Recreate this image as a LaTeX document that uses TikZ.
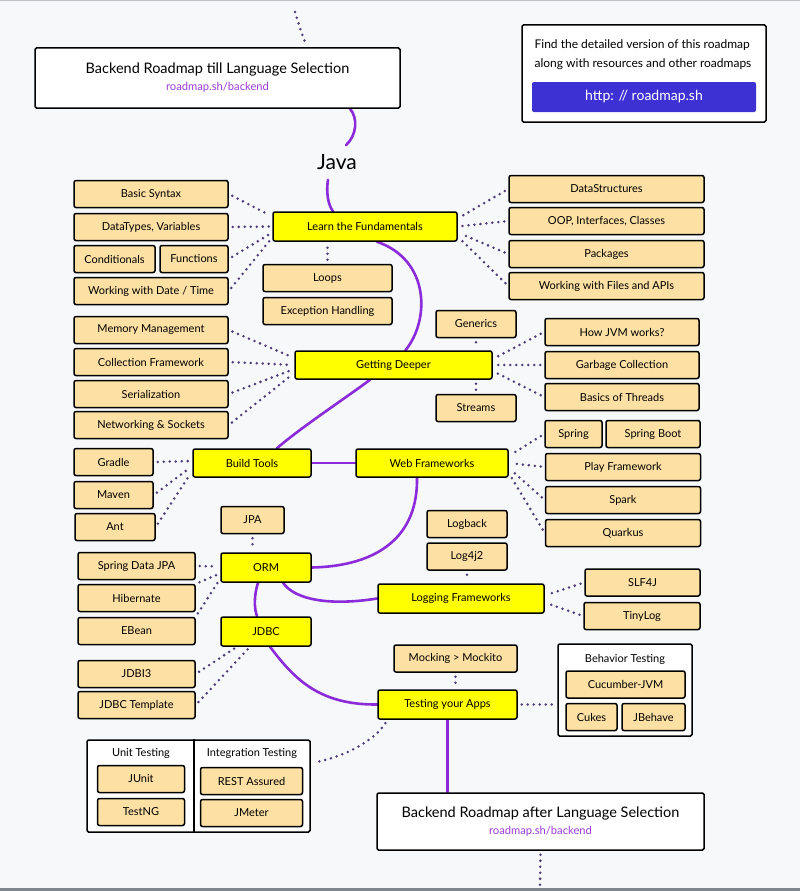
\documentclass[tikz,border=0pt]{standalone}
\usepackage{fontspec}
\setmainfont{Lato}
\usepackage{tikz}
\usetikzlibrary{positioning,calc,backgrounds}
\definecolor{rmbg}{HTML}{F6F8FA}
\definecolor{rmpeach}{HTML}{FDE0A3}
\definecolor{rmyellow}{HTML}{FFFF00}
\definecolor{rmpurple}{HTML}{8B2BD9}
\definecolor{rmdot}{HTML}{4F3B78}
\definecolor{rmblue}{HTML}{3E31D3}
\definecolor{rmlink}{HTML}{9D3BD8}
\definecolor{rmgray}{HTML}{7E868E}
\newcommand{\ttl}{\fontsize{14.5}{17}\selectfont}
\newcommand{\lnk}{\fontsize{11.2}{13}\selectfont\color{rmlink}}

\begin{document}
\begin{tikzpicture}[x=1pt,y=-1pt,font=\fontsize{11}{13}\selectfont,
  leaf/.style={rectangle,rounded corners=2pt,draw=black,line width=1.5pt,fill=rmpeach,align=center,inner sep=0pt,minimum height=27pt},
  topic/.style={leaf,fill=rmyellow,minimum height=28pt},
  hdr/.style={rectangle,rounded corners=1.5pt,draw=black,line width=1.5pt,fill=white,align=center,inner sep=0pt},
  grp/.style={rectangle,rounded corners=1.5pt,draw=black,line width=1.5pt,fill=white,inner sep=0pt},
  ln/.style={rmpurple,line width=2.6pt,line cap=round},
  dl/.style={rmdot,line width=2.8pt,line cap=round,dash pattern=on 0pt off 6pt,shorten <=4pt,shorten >=3pt}]
% ---- headers ----
\node[hdr,minimum width=365pt,minimum height=60pt] (top) at (217.5,78) {{\ttl Backend Roadmap till Language Selection}\\[4pt]{\lnk roadmap.sh/backend}};
\node[hdr,minimum width=244pt,minimum height=97pt] (info) at (644,73.5) {};
\node[align=left,font=\fontsize{12}{19}\selectfont] (infotxt) at (643,54.5) {Find the detailed version of this roadmap\\along with resources and other roadmaps};
\node[rectangle,rounded corners=2pt,fill=rmblue,text=white,font=\fontsize{14}{16}\selectfont,minimum width=224pt,minimum height=30pt] (url) at (644,97) {http: // roadmap.sh};
\node[font=\fontsize{21}{24}\selectfont,inner sep=5pt] (java) at (337,162) {Java};
\coordinate (topend) at (295,12);
% ---- main topics ----
\node[topic,minimum width=184pt,minimum height=29pt] (fund) at (365,226.5) {Learn the Fundamentals};
\node[topic,minimum width=197pt] (deep) at (393.5,365) {Getting Deeper};
\node[topic,minimum width=118pt] (build) at (252,463) {Build Tools};
\node[topic,minimum width=152pt] (web) at (432,463) {Web Frameworks};
\node[topic,minimum width=90pt,minimum height=29pt] (orm) at (266,567.5) {ORM};
\node[topic,minimum width=90pt,minimum height=29pt] (jdbc) at (266,631.5) {JDBC};
\node[topic,minimum width=166pt,minimum height=29pt] (logf) at (461,598.5) {Logging Frameworks};
\node[topic,minimum width=139pt,minimum height=29pt] (test) at (447.5,704.5) {Testing your Apps};
% ---- left column ----
\foreach \n/\y/\lab in {bs/194/{Basic Syntax},dt/227/{DataTypes, Variables},dtm/291/{Working with Date / Time},mem/330/{Memory Management},col/362/{Collection Framework},ser/394/{Serialization},net/425/{Networking \& Sockets}}{
  \node[leaf,minimum width=154pt] (\n) at (151,\y) {\lab};}
\node[leaf,minimum width=81pt] (cond) at (114.5,259) {Conditionals};
\node[leaf,minimum width=68pt] (fun) at (194,259) {Functions};
\node[leaf,minimum width=129pt] (loops) at (327.5,278) {Loops};
\node[leaf,minimum width=129pt] (exc) at (327.5,311) {Exception Handling};
% ---- right column ----
\foreach \n/\y/\lab in {ds/189/{DataStructures},oop/221/{OOP, Interfaces, Classes},pkg/254/{Packages},fil/286/{Working with Files and APIs}}{
  \node[leaf,minimum width=195pt] (\n) at (606.5,\y) {\lab};}
\node[leaf,minimum width=80pt] (gen) at (476,324) {Generics};
\node[leaf,minimum width=80pt] (str) at (476,408) {Streams};
\foreach \n/\y/\lab in {jvm/332/{How JVM works?},gc/365/{Garbage Collection},thr/397/{Basics of Threads}}{
  \node[leaf,minimum width=154pt] (\n) at (622,\y) {\lab};}
\node[leaf,minimum width=57pt] (spr) at (573.5,434) {Spring};
\node[leaf,minimum width=94pt] (sboot) at (653,434) {Spring Boot};
\foreach \n/\y/\lab in {play/467/{Play Framework},spark/500/{Spark},quark/533/{Quarkus}}{
  \node[leaf,minimum width=155pt] (\n) at (623,\y) {\lab};}
% ---- build tools, orm, jdbc ----
\node[leaf,minimum width=79pt] (gradle) at (113.5,462) {Gradle};
\node[leaf,minimum width=79pt] (maven) at (113.5,495) {Maven};
\node[leaf,minimum width=80pt] (ant) at (115,527) {Ant};
\node[leaf,minimum width=63pt] (jpa) at (252.5,520) {JPA};
\foreach \n/\y/\lab in {sdj/566/{Spring Data JPA},hib/598/{Hibernate},ebean/631/{EBean},jdbi/674/{JDBI3},jtpl/705/{JDBC Template}}{
  \node[leaf,minimum width=117pt] (\n) at (136.5,\y) {\lab};}
% ---- logging ----
\node[leaf,minimum width=80pt] (logb) at (467,524) {Logback};
\node[leaf,minimum width=80pt] (log4) at (467,556.5) {Log4j2};
\node[leaf,minimum width=115pt] (slf) at (642.5,582.5) {SLF4J};
\node[leaf,minimum width=116pt] (tiny) at (642,616) {TinyLog};
% ---- testing ----
\node[leaf,minimum width=123pt] (mock) at (455.5,658.5) {Mocking > Mockito};
\node[grp,minimum width=134pt,minimum height=92pt] (bdd) at (625,690) {};
\node (bddt) at (625,659) {Behavior Testing};
\node[leaf,minimum width=119pt] (cuc) at (625.5,684.5) {Cucumber-JVM};
\node[leaf,minimum width=51pt] (cukes) at (591.5,717) {Cukes};
\node[leaf,minimum width=63pt] (jbeh) at (653.5,717) {JBehave};
\node[grp,minimum width=223pt,minimum height=92pt] (utest) at (198.5,786) {};
\draw[line width=1.5pt] ([xshift=-4.5pt]utest.north) -- ([xshift=-4.5pt]utest.south);
\node (ut) at (141,753) {Unit Testing};
\node (it) at (252,753) {Integration Testing};
\node[leaf,minimum width=87pt] (junit) at (141,779) {JUnit};
\node[leaf,minimum width=87pt] (testng) at (141,812) {TestNG};
\node[leaf,minimum width=102pt] (rest) at (251.5,781) {REST Assured};
\node[leaf,minimum width=102pt] (jmeter) at (251.5,813) {JMeter};
\node[hdr,minimum width=327pt,minimum height=57pt] (bot) at (540.5,821.5) {{\ttl Backend Roadmap after Language Selection}\\[4pt]{\lnk roadmap.sh/backend}};
\coordinate (botend) at (540,887);
\begin{scope}[on background layer]
\fill[rmbg] (0,0) rectangle (800,891);
\fill[rmgray!50] (0,0) rectangle (800,1.5);
\fill[rmgray] (0,888) rectangle (800,891);
% ---- main path ----
\draw[dl,shorten <=0pt] (topend) .. controls (299,25) and (303,38) .. ([xshift=90pt]top.north);
\draw[ln] ([xshift=132.5pt]top.south) .. controls (358,118) and (357,135) .. ([xshift=9pt,yshift=4pt]java.north);
\draw[ln] ([xshift=-9pt,yshift=-5pt]java.south) .. controls (326,192) and (328,205) .. ([xshift=-32pt]fund.north);
\draw[ln] ([xshift=12pt]fund.south) .. controls (430,260) and (430,320) .. ([xshift=12pt]deep.north);
\draw[ln] ([xshift=-23.5pt]deep.south) .. controls (350,395) and (300,428) .. ([xshift=25pt]build.north);
\draw[ln] (build.east) -- (web.west);
\draw[ln] ([xshift=-15pt]web.south) .. controls (418,535) and (380,566) .. (orm.east);
\draw[ln] ([xshift=-8pt]orm.south) .. controls (254,595) and (254,608) .. ([xshift=-9pt]jdbc.north);
\draw[ln] ([xshift=17pt]orm.south) .. controls (295,600) and (330,606) .. (logf.west);
\draw[ln] ([xshift=4pt]jdbc.south) .. controls (295,680) and (320,705) .. (test.west);
\draw[ln] (test.south) -- (test.south |- bot.north);
\draw[dl,shorten >=0pt] (bot.south) -- (botend);
% ---- dotted links ----
\foreach \a/\s in {bs/10,dt/0,fun/-6,dtm/-11}{\draw[dl] (\a.east) -- ([yshift=\s pt]fund.west);}
\foreach \a/\s in {ds/8,oop/0,pkg/-6,fil/-10}{\draw[dl] (\a.west) -- ([yshift=\s pt]fund.east);}
\draw[dl] (loops.north) -- (loops.north |- fund.south);
\foreach \a/\s in {mem/7,col/0,ser/-4,net/-8}{\draw[dl] (\a.east) -- ([yshift=\s pt]deep.west);}
\foreach \a/\s in {jvm/6,gc/0,thr/-6}{\draw[dl] (\a.west) -- ([yshift=\s pt]deep.east);}
\draw[dl] (gen.south) -- (gen.south |- deep.north);
\draw[dl] (str.north) -- (str.north |- deep.south);
\foreach \a/\s in {gradle/2,maven/-3,ant/-8}{\draw[dl] (\a.east) -- ([yshift=\s pt]build.west);}
\foreach \a/\s in {spr/7,play/0,spark/-5,quark/-10}{\draw[dl] (\a.west) -- ([yshift=\s pt]web.east);}
\draw[dl] (jpa.south) -- (jpa.south |- orm.north);
\draw[dl] (sdj.east) -- ([yshift=1pt]orm.west);
\draw[dl] (hib.north east) -- ([yshift=-6pt]orm.west);
\draw[dl] (ebean.north east) -- ([yshift=-11pt]orm.west);
\draw[dl] (jdbi.east) -- ([xshift=-29pt]jdbc.south);
\draw[dl] (jtpl.east) -- ([xshift=-16pt]jdbc.south);
\draw[dl] (log4.south) -- (log4.south |- logf.north);
\draw[dl] (slf.west) -- ([yshift=3pt]logf.east);
\draw[dl] (tiny.west) -- ([yshift=-4pt]logf.east);
\draw[dl] (mock.south) -- (mock.south |- test.north);
\draw[dl] (test.east) -- (test.east -| bdd.west);
\draw[dl] ([xshift=-60pt]test.south) .. controls (375,740) and (345,757) .. ([yshift=23pt]utest.east);
\end{scope}
\end{tikzpicture}
\end{document}
